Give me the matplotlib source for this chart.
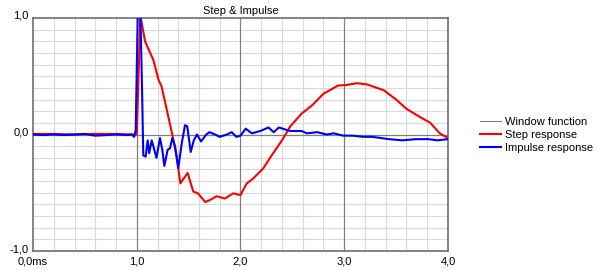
import numpy as np
import matplotlib.pyplot as plt
import matplotlib.transforms as mtrans
from matplotlib.ticker import MultipleLocator

plt.rcParams['font.family'] = ['Liberation Sans', 'DejaVu Sans']

# step response (t em ms, amplitude normalizada)
t_step = [0.0, 0.2, 0.4, 0.6, 0.8, 0.97, 1.0, 1.035, 1.08, 1.13, 1.16, 1.21, 1.24,
          1.29, 1.34, 1.385, 1.42, 1.49, 1.545, 1.59, 1.66, 1.71, 1.77, 1.85, 1.93,
          2.0, 2.06, 2.12, 2.22, 2.30, 2.40, 2.48, 2.59, 2.69, 2.80, 2.86, 2.94,
          3.02, 3.12, 3.22, 3.38, 3.50, 3.60, 3.73, 3.83, 3.92, 4.0]
y_step = [0.005, 0.005, 0.0, 0.005, 0.005, 0.0, 0.0, 1.02, 0.80, 0.70, 0.64, 0.47, 0.41,
          0.21, 0.01, -0.19, -0.42, -0.33, -0.49, -0.505, -0.58, -0.56, -0.53, -0.55, -0.505,
          -0.52, -0.42, -0.38, -0.29, -0.18, -0.05, 0.07, 0.18, 0.25, 0.35, 0.38, 0.42,
          0.425, 0.44, 0.43, 0.38, 0.30, 0.22, 0.15, 0.10, 0.01, -0.03]

# impulse response
t_imp = [0.0, 0.1, 0.2, 0.3, 0.4, 0.5, 0.6, 0.7, 0.8, 0.9, 0.95, 0.975, 0.99, 1.01, 1.035,
         1.05, 1.063, 1.086, 1.105, 1.12, 1.144, 1.166, 1.19, 1.224, 1.246, 1.266,
         1.298, 1.32, 1.343, 1.369, 1.40, 1.433, 1.465, 1.487, 1.52, 1.55, 1.58,
         1.62, 1.67, 1.70, 1.755, 1.80, 1.87, 1.915, 1.96, 2.0, 2.05, 2.11, 2.19,
         2.27, 2.32, 2.37, 2.48, 2.59, 2.64, 2.74, 2.83, 2.90, 2.99, 3.08, 3.18,
         3.27, 3.43, 3.56, 3.69, 3.81, 3.90, 4.0]
y_imp = [0.0, -0.005, 0.0, -0.005, 0.0, 0.005, -0.01, -0.005, 0.0, -0.005, 0.0, -0.02, 0.04, 1.05, 1.05,
         0.44, -0.18, -0.19, -0.05, -0.16, -0.05, -0.12, -0.20, -0.03, -0.13, -0.27,
         -0.13, -0.12, -0.03, -0.10, -0.29, -0.08, 0.08, 0.07, -0.15, -0.05, 0.0,
         -0.06, 0.0, 0.02, 0.0, -0.02, 0.0, 0.02, -0.02, -0.01, 0.05, 0.01, 0.03,
         0.06, 0.02, 0.06, 0.03, 0.03, 0.01, 0.02, 0.0, 0.01, -0.01, -0.01, -0.02,
         -0.02, -0.04, -0.05, -0.04, -0.04, -0.05, -0.04]

x_ticks = [0, 1, 2, 3, 4]
x_labels = ['0,0ms', '1,0', '2,0', '3,0', '4,0']
y_ticks = [-1, 0, 1]
y_labels = ['-1,0', '0,0', '1,0']

fig = plt.figure(figsize=(5.98, 2.70), dpi=100)
ax = fig.add_axes([33 / 598, 19 / 270, 415 / 598, 233 / 270])

ax.plot(t_step, y_step, color='#ff0000', lw=1.5, label='Step response', zorder=3)
ax.plot(t_imp, y_imp, color='#0000ff', lw=1.5, label='Impulse response', zorder=4)
# janela não aparece no gráfico, só na legenda
ax.plot([], [], color='#808080', lw=0.8, label='Window function')

ax.set_xlim(0, 4)
ax.set_ylim(-1, 1)
ax.set_xticks(x_ticks)
ax.set_xticklabels(x_labels)
ax.set_yticks(y_ticks)
ax.set_yticklabels(y_labels)
ax.xaxis.set_minor_locator(MultipleLocator(0.2))
ax.yaxis.set_minor_locator(MultipleLocator(0.1))
ax.grid(which='minor', color='#d9d9d9', lw=0.8, zorder=0)
# linhas principais por cima da grade fina
for xv in x_ticks[1:-1]:
    ax.axvline(xv, color='#808080', lw=0.9, zorder=1)
ax.axhline(0, color='#808080', lw=0.9, zorder=1)
ax.set_axisbelow(True)
ax.tick_params(axis='x', which='both', length=0, labelsize=8, pad=4)
ax.tick_params(axis='y', which='both', length=0, labelsize=8, pad=3)

# rótulos do eixo y um pouco acima da linha, como no original
up = mtrans.ScaledTranslation(0, 3 / 100, fig.dpi_scale_trans)
for lbl in ax.get_yticklabels():
    lbl.set_transform(lbl.get_transform() + up)

for s in ax.spines.values():
    s.set_color('#6e6e6e')
    s.set_linewidth(1.2)

ax.set_title('Step & Impulse', fontsize=8, pad=3)

h, l = ax.get_legend_handles_labels()
order = [2, 0, 1]
fig.legend([h[i] for i in order], [l[i] for i in order], loc='upper left',
           bbox_to_anchor=(474 / 598, 1 - 111 / 270), frameon=False, fontsize=8,
           handlelength=1.9, handletextpad=0.35, labelspacing=0.3, borderpad=0)

fig.savefig('out.png', dpi=100)
